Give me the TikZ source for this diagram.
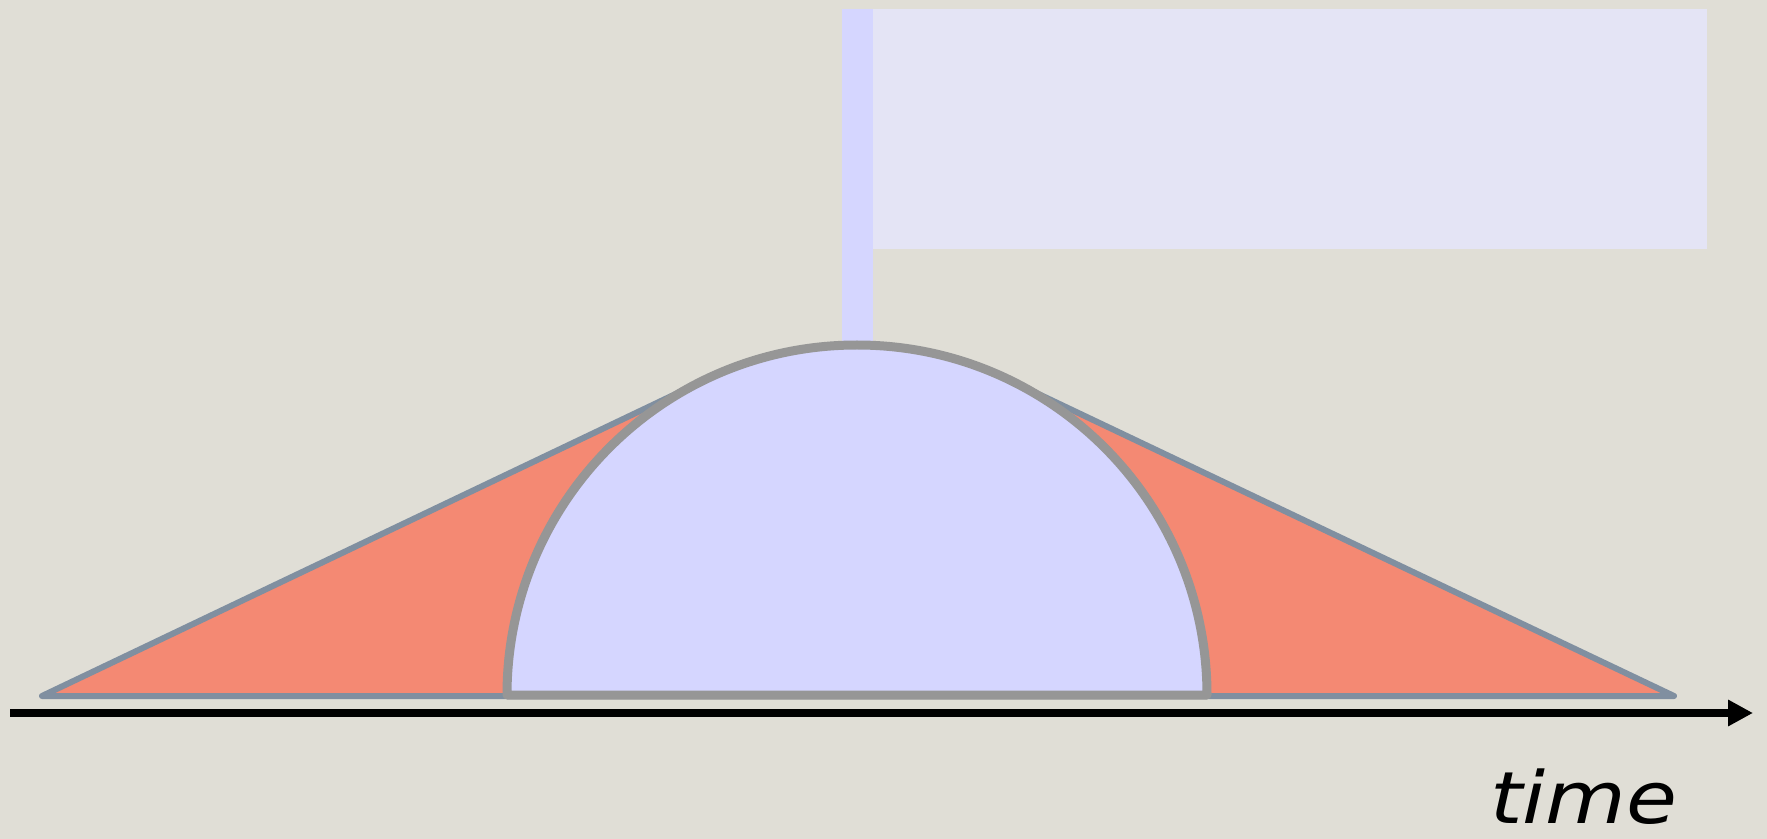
\documentclass[tikz,border=0pt]{standalone}
\usepackage{fontspec}
\setmainfont{DejaVu Sans}
\usetikzlibrary{arrows.meta}
\definecolor{bgc}{RGB}{224,222,214}
\definecolor{flagc}{RGB}{228,228,245}
\definecolor{polec}{RGB}{213,214,255}
\definecolor{domec}{RGB}{213,214,255}
\definecolor{domestroke}{RGB}{150,150,150}
\definecolor{redc}{RGB}{244,137,115}
\definecolor{slatec}{RGB}{128,143,160}
\tikzset{
  redfill/.style={fill=redc},
  slateline/.style={draw=slatec, line width=3pt, line join=round, line cap=round},
  domeshape/.style={fill=domec, draw=domestroke, line width=4.5pt, line join=round},
  timearrow/.style={line width=4pt, -{Triangle[length=12.5pt,width=12.5pt]}},
  timelabel/.style={font=\fontsize{36}{44}\selectfont\itshape, anchor=base west, inner sep=0pt, text depth=0pt}
}
\begin{document}
\begin{tikzpicture}[x=0.5pt,y=-0.5pt]
\fill[bgc] (0,0) rectangle (1767,839);
\useasboundingbox (0,0) rectangle (1767,839);
% flag
\fill[flagc] (873,9) rectangle (1707,249);
\fill[polec] (842,9) rectangle (873,345);
% red wedges
\coordinate (L) at (42,696);
\coordinate (R) at (1674,696);
\coordinate (TL) at (705,380);
\coordinate (TR) at (1009,380);
\fill[redfill] (L) -- (TL) -- (TR) -- (R) -- cycle;
\draw[slateline] (TL) -- (L) -- (R) -- (TR);
% dome
\draw[domeshape] (507,695) arc[start angle=180, end angle=360, radius=350] -- cycle;
% time axis
\coordinate (A0) at (10,713);
\coordinate (A1) at (1753,713);
\draw[timearrow] (A0) -- (A1);
\node[timelabel] (time) at (1490,823) {\scalebox{1.15}[1]{time}};
\end{tikzpicture}
\end{document}
